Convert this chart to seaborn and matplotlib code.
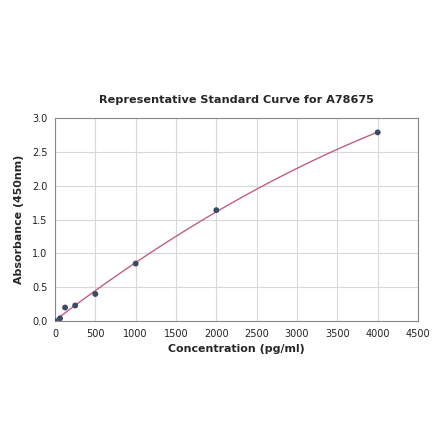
import matplotlib
matplotlib.use("Agg")
import matplotlib.pyplot as plt
import seaborn as sns
import pandas as pd

concentration = [0, 62.5, 125, 250, 500, 1000, 2000, 4000]
absorbance = [0.0, 0.04, 0.20, 0.23, 0.40, 0.85, 1.64, 2.79]
x_ticks = [0, 500, 1000, 1500, 2000, 2500, 3000, 3500, 4000, 4500]
y_ticks = [0.0, 0.5, 1.0, 1.5, 2.0, 2.5, 3.0]

df = pd.DataFrame({"conc": concentration, "abs": absorbance})

sns.set_style("white")
plt.rcParams['font.family'] = ['DejaVu Sans']

fig = plt.figure(figsize=(4.40, 4.41), dpi=100)
ax = fig.add_axes([0.125, 0.272, 0.825, 0.46])

sns.regplot(data=df, x="conc", y="abs", order=2, ci=None, scatter=False,
            ax=ax, line_kws=dict(color="#c0607e", lw=1.0))
sns.scatterplot(data=df, x="conc", y="abs", ax=ax, color="#3b4a6b", s=18,
                edgecolor="none", zorder=5)

ax.set_xlim(0, 4500)
ax.set_ylim(0, 3.0)
ax.set_xticks(x_ticks)
ax.set_yticks(y_ticks)
ax.set_yticklabels([f"{v:.1f}" for v in y_ticks])
ax.grid(True, color="#d8d8d8", lw=0.8)
ax.set_axisbelow(True)
for s in ax.spines.values():
    s.set_color("#888888")
    s.set_linewidth(0.8)
ax.tick_params(axis="both", labelsize=7, length=3, color="#888888", labelcolor="#222222", pad=2.5)
ax.set_xlabel("Concentration (pg/ml)", fontsize=7.9, fontweight="bold", labelpad=4)
ax.set_ylabel("Absorbance (450nm)", fontsize=7.9, fontweight="bold", labelpad=6)
ax.set_title("Representative Standard Curve for A78675", fontsize=8.1, fontweight="bold", pad=11)

fig.savefig("out.png", dpi=100, facecolor="white")
